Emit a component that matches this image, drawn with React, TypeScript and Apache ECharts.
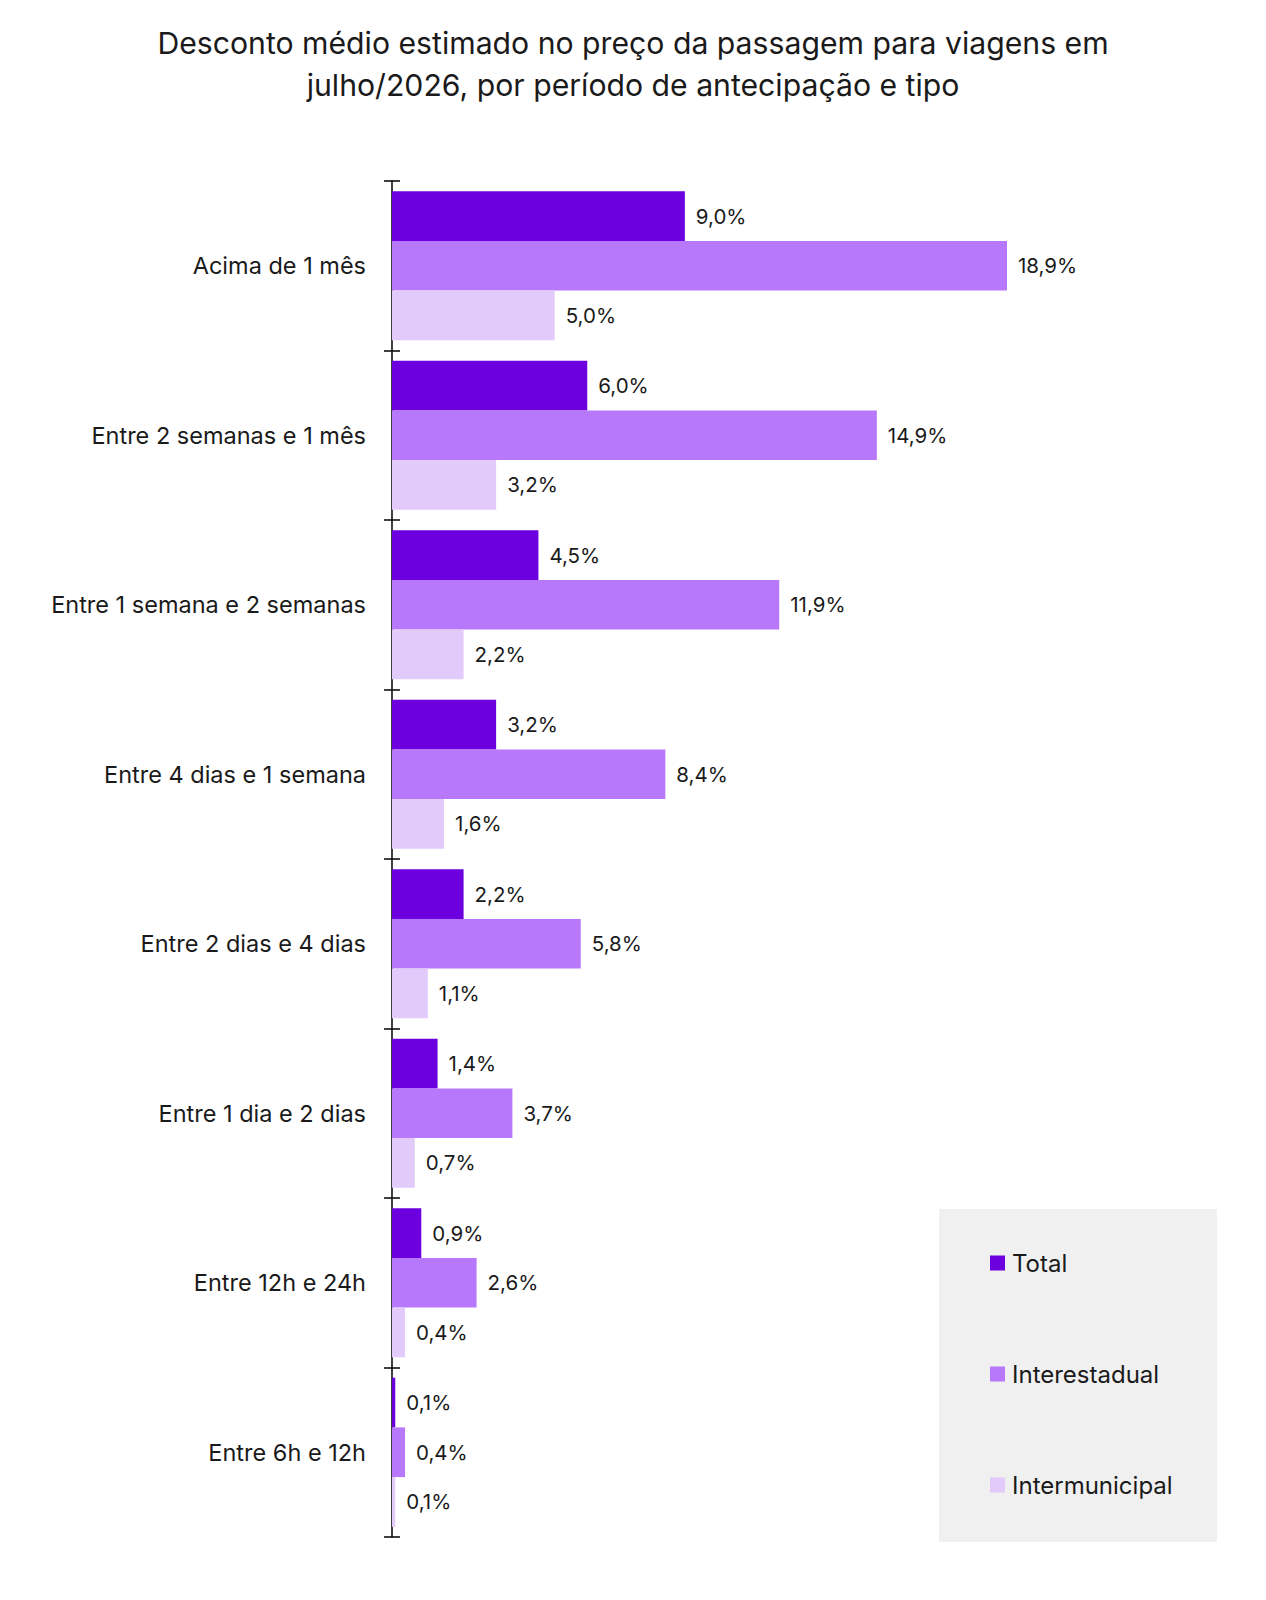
import React, { useEffect, useRef } from "react";
import * as echarts from "echarts";

const titleText =
  "Desconto médio estimado no preço da passagem para viagens em\njulho/2026, por período de antecipação e tipo";

const categories = [
  "Acima de 1 mês",
  "Entre 2 semanas e 1 mês",
  "Entre 1 semana e 2 semanas",
  "Entre 4 dias e 1 semana",
  "Entre 2 dias e 4 dias",
  "Entre 1 dia e 2 dias",
  "Entre 12h e 24h",
  "Entre 6h e 12h",
];

const seriesNames = ["Total", "Interestadual", "Intermunicipal"];
const totalValues = [9.0, 6.0, 4.5, 3.2, 2.2, 1.4, 0.9, 0.1];
const interestadualValues = [18.9, 14.9, 11.9, 8.4, 5.8, 3.7, 2.6, 0.4];
const intermunicipalValues = [5.0, 3.2, 2.2, 1.6, 1.1, 0.7, 0.4, 0.1];

const colors = ["#6c00df", "#b878fb", "#e2cbfa"];
const FONT = "Inter, 'Noto Sans', sans-serif";
const TEXT = "#1a1a1a";

export default function App() {
  const ref = useRef<HTMLDivElement>(null);

  useEffect(() => {
    if (!ref.current) return;
    const chart = echarts.init(ref.current, undefined, { renderer: "svg" });
    const fmt = (p: any) => Number(p.value).toFixed(1).replace(".", ",") + "%";
    const values = [totalValues, interestadualValues, intermunicipalValues];
    chart.setOption({
      animation: false,
      backgroundColor: "#ffffff",
      textStyle: { fontFamily: FONT },
      title: {
        text: titleText,
        left: "center",
        top: 17,
        padding: [5, 0, 5, 14],
        textStyle: {
          fontFamily: FONT,
          fontSize: 30.2,
          fontWeight: "normal",
          color: TEXT,
          lineHeight: 42,
        },
      },
      graphic: [
        {
          type: "rect",
          left: 939,
          top: 1209,
          shape: { width: 278, height: 333 },
          style: { fill: "#f0f0f0" },
          z: -10,
        },
      ],
      legend: {
        orient: "vertical",
        left: 990,
        top: 1251,
        itemWidth: 15,
        itemHeight: 15,
        itemGap: 87,
        icon: "rect",
        padding: 0,
        textStyle: {
          fontFamily: FONT,
          fontSize: 24,
          color: TEXT,
          lineHeight: 22,
          padding: [0, 0, 0, 2],
        },
        data: seriesNames,
      },
      grid: { left: 392, top: 181, width: 813.5, height: 1356, containLabel: false },
      xAxis: {
        type: "value",
        min: 0,
        max: 25,
        show: false,
      },
      yAxis: [
        {
          type: "category",
          data: categories,
          inverse: true,
          axisLine: { show: true, lineStyle: { color: "#111", width: 1.6 } },
          axisTick: { show: true, length: 8, lineStyle: { color: "#111", width: 1.6 } },
          axisLabel: {
            color: TEXT,
            fontFamily: FONT,
            fontSize: 23.5,
            margin: 26,
          },
          splitLine: { show: false },
        },
        {
          type: "category",
          data: categories,
          inverse: true,
          position: "left",
          axisLine: { show: false },
          axisTick: { show: true, inside: true, length: 8, lineStyle: { color: "#111", width: 1.6 } },
          axisLabel: { show: false },
          splitLine: { show: false },
        },
      ],
      series: seriesNames.map((name, i) => ({
        name,
        type: "bar",
        yAxisIndex: 0,
        data: values[i],
        barGap: "0%",
        barCategoryGap: "12%",
        itemStyle: { color: colors[i] },
        label: {
          show: true,
          position: "right",
          distance: 11,
          formatter: fmt,
          color: TEXT,
          fontFamily: FONT,
          fontSize: 20.5,
        },
      })),
    });
    return () => chart.dispose();
  }, []);

  return (
    <div
      ref={ref}
      style={{ position: "absolute", left: 0, top: 0, width: 1266, height: 1600 }}
    />
  );
}
